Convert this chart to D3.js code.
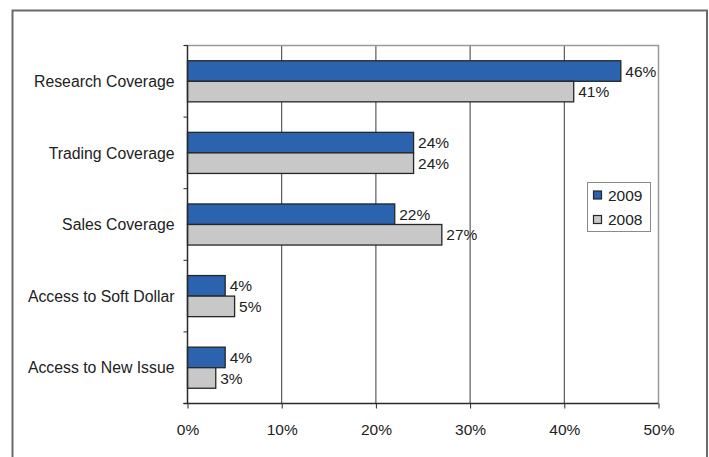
<!DOCTYPE html>
<html>
<head>
<meta charset="utf-8">
<script src="https://cdn.jsdelivr.net/npm/d3@7"></script>
<style>
  html, body { margin: 0; padding: 0; background: #fff; }
  svg { display: block; font-family: "Liberation Sans", Arial, Helvetica, sans-serif; }
</style>
</head>
<body>
<svg id="chart" width="709" height="457"></svg>
<script>
// Coverage categories, top to bottom
const categories = [
  "Research Coverage",
  "Trading Coverage",
  "Sales Coverage",
  "Access to Soft Dollar",
  "Access to New Issue"
];
// Share of respondents (%) per year
const values2009 = [46, 24, 22, 4, 4];
const values2008 = [41, 24, 27, 5, 3];
const seriesNames = ["2009", "2008"];
const xTicks = [0, 10, 20, 30, 40, 50];

const colors = { "2009": "#2b63ae", "2008": "#c8c8c8" };

const svg = d3.select("#chart");
const W = 709, H = 457;

// outer frame
svg.append("path")
  .attr("d", `M12.5,${H} V10.5 H707 V${H}`)
  .attr("fill", "none")
  .attr("stroke", "#6a6a6a")
  .attr("stroke-width", 2);

const plot = { left: 187.5, right: 658.5, top: 45.5, bottom: 403.5 };

const x = d3.scaleLinear().domain([0, 50]).range([plot.left, plot.right]);
const y = d3.scaleBand().domain(categories).range([plot.top, plot.bottom]);
const barH = y.bandwidth() * 0.287;
const series = seriesNames.map((name, i) => ({
  name,
  values: i === 0 ? values2009 : values2008
}));

// vertical gridlines
svg.append("g")
  .selectAll("line")
  .data(xTicks.filter(t => t > 0 && t < 50))
  .join("line")
  .attr("x1", d => x(d)).attr("x2", d => x(d))
  .attr("y1", plot.top).attr("y2", plot.bottom)
  .attr("stroke", "#3a3a3a")
  .attr("stroke-width", 1);

// plot area border (top and right)
svg.append("path")
  .attr("d", `M${plot.left - 3},${plot.top} H${plot.right} V${plot.bottom}`)
  .attr("fill", "none")
  .attr("stroke", "#9a9a9a")
  .attr("stroke-width", 1.5);

// bars
series.forEach((s, si) => {
  svg.append("g")
    .selectAll("rect")
    .data(categories.map((c, i) => ({ c, v: s.values[i] })))
    .join("rect")
    .attr("x", x(0))
    .attr("y", d => y(d.c) + y.bandwidth() / 2 - barH + si * barH)
    .attr("width", d => x(d.v) - x(0))
    .attr("height", barH)
    .attr("fill", colors[s.name])
    .attr("stroke", "#262626")
    .attr("stroke-width", 1.3);

  svg.append("g")
    .selectAll("text")
    .data(categories.map((c, i) => ({ c, v: s.values[i] })))
    .join("text")
    .attr("x", d => x(d.v) + 4.5)
    .attr("y", d => y(d.c) + y.bandwidth() / 2 - barH / 2 + si * barH)
    .attr("dy", "0.36em")
    .attr("font-size", 15.5)
    .attr("fill", "#222")
    .text(d => d.v + "%");
});

// y axis
const yAxis = svg.append("g")
  .attr("transform", `translate(${plot.left},0)`);
yAxis.append("line")
  .attr("x1", 0).attr("x2", 0)
  .attr("y1", plot.top).attr("y2", plot.bottom)
  .attr("stroke", "#2a2a2a").attr("stroke-width", 1.5);
yAxis.selectAll("line.tick")
  .data(categories.map(c => y(c)).concat([plot.bottom]))
  .join("line")
  .attr("class", "tick")
  .attr("x1", -4).attr("x2", 0)
  .attr("y1", d => d).attr("y2", d => d)
  .attr("stroke", "#2a2a2a").attr("stroke-width", 1);
yAxis.selectAll("text")
  .data(categories)
  .join("text")
  .attr("x", -13)
  .attr("y", d => y(d) + y.bandwidth() / 2)
  .attr("dy", "0.36em")
  .attr("text-anchor", "end")
  .attr("font-size", 15.8)
  .attr("fill", "#222")
  .text(d => d);

// x axis
const xAxis = d3.axisBottom(x)
  .tickValues(xTicks)
  .tickFormat(d => d + "%")
  .tickSize(5)
  .tickPadding(15);
const gx = svg.append("g")
  .attr("transform", `translate(0,${plot.bottom})`)
  .call(xAxis);
gx.select(".domain")
  .attr("d", `M${plot.left - 4},0 H${plot.right}`)
  .attr("stroke", "#2a2a2a").attr("stroke-width", 1.5);
gx.selectAll(".tick line").attr("stroke", "#2a2a2a");
gx.selectAll(".tick text")
  .attr("font-size", 15.5)
  .attr("font-family", "Liberation Sans, Arial, sans-serif")
  .attr("fill", "#222");

// legend
const legend = svg.append("g").attr("transform", "translate(587.5,182.5)");
legend.append("rect")
  .attr("width", 63).attr("height", 49)
  .attr("fill", "#fff")
  .attr("stroke", "#8a8a8a").attr("stroke-width", 1);
seriesNames.forEach((name, i) => {
  const row = legend.append("g").attr("transform", `translate(6,${8.5 + i * 24.5})`);
  row.append("rect")
    .attr("width", 8).attr("height", 8)
    .attr("fill", colors[name])
    .attr("stroke", "#262626").attr("stroke-width", 1.2);
  row.append("text")
    .attr("x", 14.5).attr("y", 4)
    .attr("dy", "0.36em")
    .attr("font-size", 15.5)
    .attr("fill", "#222")
    .text(name);
});
</script>
</body>
</html>
